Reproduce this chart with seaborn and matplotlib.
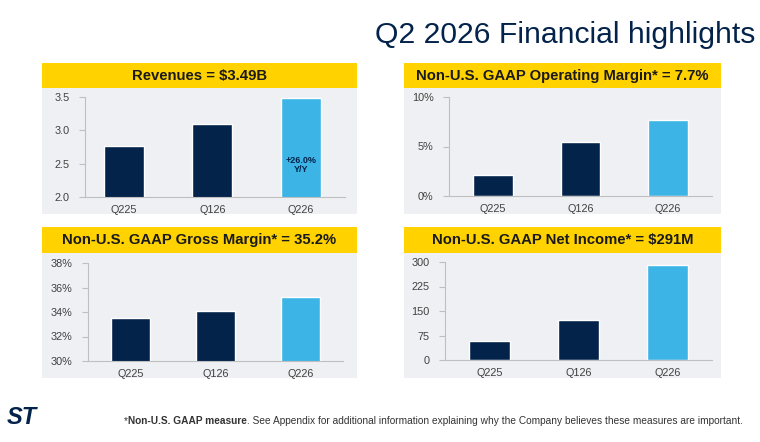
import numpy as np
import pandas as pd
import seaborn as sns
import matplotlib.pyplot as plt
from matplotlib.patches import Rectangle


# data
quarters = ['Q225', 'Q126', 'Q226']
revenues = [2.77, 3.10, 3.49]
op_margin = [2.1, 5.5, 7.7]
gross_margin = [33.5, 34.1, 35.2]
net_income = [57, 122, 291]

titles = ['Revenues = $3.49B',
          'Non-U.S. GAAP Operating Margin* = 7.7%',
          'Non-U.S. GAAP Gross Margin* = 35.2%',
          'Non-U.S. GAAP Net Income* = $291M']

rev_ticks = [2.0, 2.5, 3.0, 3.5]
rev_labels = ['2.0', '2.5', '3.0', '3.5']
op_ticks = [0, 5, 10]
op_labels = ['0%', '5%', '10%']
gm_ticks = [30, 32, 34, 36, 38]
gm_labels = ['30%', '32%', '34%', '36%', '38%']
ni_ticks = [0, 75, 150, 225, 300]
ni_labels = ['0', '75', '150', '225', '300']

navy = '#03234B'
light_blue = '#3CB4E6'
yellow = '#FFD200'
panel_gray = '#EEF0F3'
spine_gray = '#BFBFBF'

sns.set_theme(style='white')
plt.rcParams['font.family'] = ['Liberation Sans', 'DejaVu Sans']

W, H = 760, 442
fig = plt.figure(figsize=(7.6, 4.42), dpi=100)


def fx(px):
  return px / W


def fy(py):
  return 1 - py / H


def fig_rect(x0, y0, x1, y1, color):
  # rectangle given in pixel coords (top-left origin), kept behind the axes
  r = Rectangle((fx(x0), fy(y1)), fx(x1) - fx(x0), fy(y0) - fy(y1),
                transform=fig.transFigure, facecolor=color, edgecolor='none', zorder=-5)
  fig.patches.append(r)


def add_panel(x0, x1, top, title):
  # yellow header + gray panel
  fig_rect(x0, top, x1, top + 25.5, yellow)
  fig_rect(x0, top + 25.5, x1, top + 151, panel_gray)
  fig.text(fx((x0 + x1) / 2), fy(top + 13), title, ha='center', va='center',
           fontsize=10.7, fontweight='bold', color='#1A1A1A')


def add_bars(x0, x1, y0, y1, vals, ylim, ticks, labels, xlim=(-0.5, 2.5)):
  ax = fig.add_axes([fx(x0), fy(y1), fx(x1) - fx(x0), fy(y0) - fy(y1)])
  ax.set_facecolor('none')
  sns.barplot(x=quarters, y=vals, hue=quarters, palette=[navy, navy, light_blue],
              width=0.45, saturation=1, legend=False, ax=ax)
  ax.set_ylim(*ylim)
  ax.set_xlim(*xlim)
  ax.set_yticks(ticks)
  ax.set_yticklabels(labels)
  for s in ['top', 'right']:
    ax.spines[s].set_visible(False)
  for s in ['left', 'bottom']:
    ax.spines[s].set_color(spine_gray)
    ax.spines[s].set_linewidth(0.8)
  ax.tick_params(axis='y', length=4, width=0.8, color=spine_gray, labelsize=7.8,
                 labelcolor='#404040', pad=7, left=True)
  ax.tick_params(axis='x', length=0, labelsize=7.8, labelcolor='#404040', pad=6)
  ax.set_xlabel('')
  ax.set_ylabel('')
  return ax


add_panel(42, 357, 63, titles[0])
add_panel(404, 721, 63, titles[1])
add_panel(42, 357, 227, titles[2])
add_panel(404, 721, 227, titles[3])

ax1 = add_bars(85, 345, 97, 197, revenues, (2.0, 3.5), rev_ticks, rev_labels, xlim=(-0.44, 2.5))
ax1.text(2, 2.48, '+26.0%\nY/Y', ha='center', va='center', fontsize=6.5,
         fontweight='bold', color=navy, linespacing=1.1)
ax2 = add_bars(449, 712, 97, 196, op_margin, (0, 10), op_ticks, op_labels)
ax3 = add_bars(88, 343, 263, 361, gross_margin, (30, 38), gm_ticks, gm_labels)
ax4 = add_bars(445, 712, 262, 360, net_income, (0, 300), ni_ticks, ni_labels)

# title
fig.text(fx(755), fy(35), 'Q2 2026 Financial highlights', ha='right', va='center',
         fontsize=21.7, color=navy)

# footnote: bold part then regular part placed right after it
renderer = fig.canvas.get_renderer()
t1 = fig.text(fx(124), fy(421), '*', ha='left', va='center', fontsize=7.3, color='#333333')
x_next = t1.get_window_extent(renderer).x1
t2 = fig.text(x_next / W, fy(421), 'Non-U.S. GAAP measure', ha='left', va='center',
              fontsize=7.3, fontweight='bold', color='#333333')
x_next = t2.get_window_extent(renderer).x1
fig.text(x_next / W, fy(421),
         '. See Appendix for additional information explaining why the Company believes these measures are important.',
         ha='left', va='center', fontsize=7.3, color='#333333')

# logo
fig.text(fx(22), fy(418), 'ST', ha='center', va='center', fontsize=17,
         fontweight='bold', fontstyle='italic', color=navy)

fig.savefig('out.png', dpi=100)
